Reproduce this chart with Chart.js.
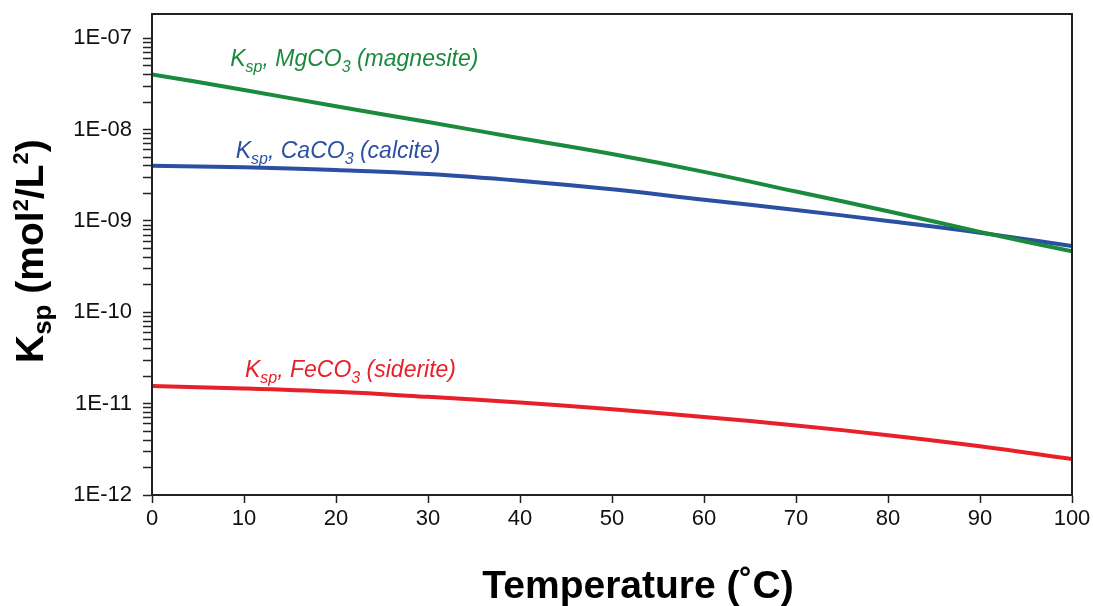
<!DOCTYPE html>
<html>
<head>
<meta charset="utf-8">
<script src="https://cdn.jsdelivr.net/npm/chart.js@4.4.1/dist/chart.umd.min.js"></script>
<style>
  html, body { margin: 0; padding: 0; background: #fff; }
  #wrap { width: 1093px; height: 606px; }
</style>
</head>
<body>
<div id="wrap"><canvas id="c" width="1093" height="606"></canvas></div>
<script>
// temperature (°C)
const temps = [0, 10, 20, 30, 40, 50, 60, 70, 80, 90, 100];
// Ksp values
const mgco3 = [4.03e-8, 2.72e-8, 1.80e-8, 1.21e-8, 8.05e-9, 5.4e-9, 3.45e-9, 2.1e-9, 1.28e-9, 7.6e-10, 4.65e-10];
const caco3 = [4.03e-9, 3.87e-9, 3.61e-9, 3.27e-9, 2.76e-9, 2.22e-9, 1.71e-9, 1.32e-9, 1.0e-9, 7.45e-10, 5.31e-10];
const feco3 = [1.556e-11, 1.466e-11, 1.346e-11, 1.187e-11, 1.031e-11, 8.71e-12, 7.16e-12, 5.77e-12, 4.52e-12, 3.42e-12, 2.47e-12];

const yDecades = [1e-12, 1e-11, 1e-10, 1e-9, 1e-8, 1e-7];
const yTickLabels = ['1E-12', '1E-11', '1E-10', '1E-09', '1E-08', '1E-07'];
const yMax = 1.845e-7;

// curve labels: mineral and position in data units
const noteNames = ['MgCO', 'CaCO', 'FeCO'];
const noteMinerals = ['(magnesite)', '(calcite)', '(siderite)'];
const noteX = [8.5, 9.1, 10.1];
const noteY = [5.0e-8, 4.92e-9, 1.97e-11];

const GREEN = '#1a8a3c';
const BLUE = '#2b4fa2';
const RED = '#e8202a';
const FONT = '"Liberation Sans", Arial, Helvetica, sans-serif';

function drawRich(ctx, parts, x, y, color) {
    ctx.fillStyle = color;
    ctx.textAlign = 'left';
    ctx.textBaseline = 'alphabetic';
    parts.forEach(p => {
        ctx.font = p.f;
        ctx.fillText(p.t, x, y + (p.dy || 0));
        x += ctx.measureText(p.t).width;
    });
}

const extras = {
    id: 'extras',
    afterDraw(chart) {
        const ctx = chart.ctx;
        const a = chart.chartArea;
        const xs = chart.scales.x, ys = chart.scales.y;

        // box round the plot
        ctx.save();
        ctx.strokeStyle = '#222';
        ctx.lineWidth = 2;
        ctx.strokeRect(a.left, a.top, a.right - a.left, a.bottom - a.top);
        ctx.restore();

        // curve labels
        const colors = [GREEN, BLUE, RED];
        const it = 'italic 23px ' + FONT;
        const sub = 'italic 16px ' + FONT;
        noteNames.forEach((n, i) => {
            const px = xs.getPixelForValue(noteX[i]);
            const py = ys.getPixelForValue(noteY[i]);
            drawRich(ctx, [
                { t: 'K', f: it },
                { t: 'sp', f: sub, dy: 6 },
                { t: ', ' + n, f: it },
                { t: '3', f: sub, dy: 6 },
                { t: ' ' + noteMinerals[i], f: it }
            ], px, py, colors[i]);
        });

        // axis titles
        const bold = 'bold 39px ' + FONT;
        const bsub = 'bold 26px ' + FONT;
        const bsup = 'bold 22px ' + FONT;
        ctx.save();
        ctx.font = bold;
        ctx.fillStyle = '#000';
        ctx.textAlign = 'center';
        ctx.textBaseline = 'alphabetic';
        ctx.fillText('Temperature (˚C)', 638, 598);
        ctx.restore();

        ctx.save();
        ctx.translate(43, 363);
        ctx.rotate(-Math.PI / 2);
        drawRich(ctx, [
            { t: 'K', f: bold },
            { t: 'sp', f: bsub, dy: 8 },
            { t: ' (mol', f: bold },
            { t: '2', f: bsup, dy: -15 },
            { t: '/L', f: bold },
            { t: '2', f: bsup, dy: -15 },
            { t: ')', f: bold }
        ], 0, 0, '#000');
        ctx.restore();
    }
};

const lineStyle = color => ({
    borderColor: color,
    backgroundColor: color,
    borderWidth: 4,
    pointRadius: 0,
    fill: false,
    tension: 0.4
});

new Chart(document.getElementById('c').getContext('2d'), {
    type: 'line',
    data: {
        datasets: [
            { label: 'MgCO3', data: temps.map((t, i) => ({ x: t, y: mgco3[i] })), ...lineStyle(GREEN) },
            { label: 'CaCO3', data: temps.map((t, i) => ({ x: t, y: caco3[i] })), ...lineStyle(BLUE) },
            { label: 'FeCO3', data: temps.map((t, i) => ({ x: t, y: feco3[i] })), ...lineStyle(RED) }
        ]
    },
    options: {
        responsive: false,
        animation: false,
        events: [],
        layout: { padding: { top: 14, right: 21, left: 0, bottom: 0 } },
        plugins: {
            legend: { display: false },
            tooltip: { enabled: false }
        },
        scales: {
            x: {
                type: 'linear',
                min: 0,
                max: 100,
                ticks: {
                    stepSize: 10,
                    color: '#111',
                    padding: 3,
                    font: { family: FONT, size: 22 }
                },
                grid: { drawOnChartArea: false, tickLength: 8, tickColor: '#222', tickWidth: 1.5 },
                border: { color: '#222', width: 2 },
                afterFit: s => { s.height = 111; s.paddingLeft = 0; s.paddingRight = 0; }
            },
            y: {
                type: 'logarithmic',
                min: 1e-12,
                max: yMax,
                afterBuildTicks: s => {
                    const t = [];
                    yDecades.forEach(d => {
                        for (let m = 1; m <= 9; m++) {
                            if (m * d <= yMax * 1.0001) t.push({ value: m * d });
                        }
                    });
                    s.ticks = t;
                },
                ticks: {
                    autoSkip: false,
                    color: '#111',
                    padding: 11,
                    font: { family: FONT, size: 22 },
                    callback: v => {
                        const i = yDecades.findIndex(d => Math.abs(Math.log10(v) - Math.log10(d)) < 1e-6);
                        return i >= 0 ? yTickLabels[i] : '';
                    }
                },
                grid: { drawOnChartArea: false, tickLength: 9, tickColor: '#222', tickWidth: 1.5 },
                border: { color: '#222', width: 2 },
                afterFit: s => { s.width = 152; s.paddingTop = 0; s.paddingBottom = 0; }
            }
        }
    },
    plugins: [extras]
});
</script>
</body>
</html>
